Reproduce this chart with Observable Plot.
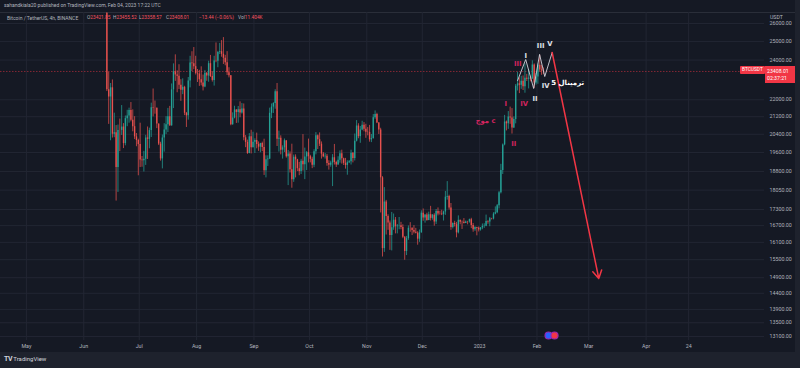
<!DOCTYPE html>
<html><head><meta charset="utf-8">
<script src="https://cdn.jsdelivr.net/npm/d3@7"></script>
<script src="https://cdn.jsdelivr.net/npm/@observablehq/plot@0.6"></script>
<style>
body{margin:0;background:#1e222d;}
#wrap{position:relative;width:800px;height:368px;overflow:hidden;font-family:Roboto,"Liberation Sans",sans-serif;background:#1e222d;}
#pane{position:absolute;left:0;top:0;width:795px;height:352px;background:#151924;}
#sep{position:absolute;left:0;top:12px;width:795px;height:1px;background:#2a2e39;}
#chart{position:absolute;left:0;top:0;}
.t{position:absolute;white-space:nowrap;font-size:5.2px;color:#b2b5be;line-height:1;}
.r{color:#f7525f;}
</style></head><body>
<div id="wrap"><div id="pane"></div><div id="sep"></div><div id="chart"></div></div>
<script>
// ---- data ----
const firstOpen = 26574;
const startDay = "2022-06-13";
const closes = [
22487,22136,22584,20401,20468,18970,20574,20573,20724,19987,21110,21237,21492,21038,20742,20281,20123,19942,
19280,19252,19315,20236,20175,20564,21624,21595,21591,20862,19963,19328,20234,20588,20830,21195,20779,22485,23389,23231,23164,22714,22465,22610,21361,21239,22930,23843,23804,23656,23306,
23278,22987,22818,22622,23312,23175,23810,23150,22954,23954,23934,24403,24441,24305,24094,23854,23342,23191,20834,21140,21515,21399,21529,21368,21559,20241,20037,19555,20285,19811,20050,
20127,19952,19832,19986,19812,18837,19290,19320,21360,21650,21826,22395,20173,20226,19701,19803,20113,19416,19537,18875,18461,19401,19289,18920,18807,19227,19079,19412,19591,19422,
19310,19056,19629,20337,20158,19960,19532,19417,19439,19131,19061,19155,19376,19176,19068,19268,19550,19334,19140,19053,19170,19208,19567,19345,20095,20771,20295,20591,20809,20627,20491,
20483,20151,20207,21148,21300,20905,20592,18542,15880,17587,17035,16800,16340,16620,16900,16660,16690,16695,16630,16284,15781,16230,16603,16600,16521,16459,16427,16212,16443,17163,
16977,17092,16885,17105,16967,17088,16837,17224,17129,17128,17105,17206,17774,17803,17356,16630,16777,16738,16438,16895,16825,16821,16778,16836,16832,16919,16706,16547,16633,16607,16542,
16616,16672,16675,16851,16832,16950,16943,17127,17178,17440,17943,18847,19930,20954,20871,21185,21134,20677,21071,22667,22784,22707,22917,22633,23060,23009,23074,23027,23743,22826,23125,
23732,23488,23431,23408];
const highs = [
26883,23362,22800,22976,21365,20792,20815,21090,21723,20880,21233,21500,21600,21868,21520,21200,20432,20180,
20900,19430,19650,20354,20728,20675,21838,22527,21940,21608,20868,20046,20366,20880,21200,21588,21684,22777,23800,24276,23441,23756,22990,23033,22660,21400,23100,24200,24442,24668,24200,
23509,23466,23647,23225,23460,23354,23938,24245,23400,24200,24918,24460,24890,25047,25211,24250,24446,23600,23200,21380,21690,21520,21680,21900,21820,21800,20340,20140,20430,20580,20490,
20200,20450,20060,20000,20050,20180,19460,19460,21600,21800,21860,22490,22800,20540,20330,19890,20190,20100,19690,19630,19960,19490,19500,19310,19180,19310,20385,19790,19645,20185,
19480,19400,19720,20475,20370,20460,20060,19600,19560,19520,19250,19230,19510,19950,19230,19420,19670,19700,19360,19350,19250,19260,19700,19600,20410,21020,20875,20750,20990,20930,20850,
20700,20800,20390,21300,21470,21360,20930,20670,18590,18150,17650,17100,16870,17190,17130,17000,16740,17000,16820,16730,16300,16310,16690,16810,16620,16700,16600,16480,16540,17250,
17320,17100,17160,17200,17420,17110,17140,17300,17360,17230,17270,17240,18000,18390,17850,17530,16800,16860,16820,17060,16900,16870,16960,16870,16860,16940,16970,16780,16660,16640,16650,
16630,16760,16770,17090,16880,17000,16970,17180,17400,17490,18000,19100,19970,21260,21000,21440,21650,21580,21190,22750,23370,23080,23160,23180,23800,23260,23500,23170,23960,23800,23310,
23800,24255,23720,23590];
const lows = [
22400,20846,20111,20232,20246,17622,17960,19637,20348,19770,19890,20740,20900,20961,20510,20164,19850,18626,
18966,18978,18781,19055,19304,19761,20256,21189,21316,20652,19901,19235,18910,19616,20383,20476,20750,20762,21581,22906,22341,22500,21927,22250,21250,20706,21040,22580,23400,23502,23227,
22850,22654,22681,22430,22588,22910,22860,23100,22870,22670,23860,23600,24290,24150,23770,23700,23200,23080,20783,20800,21100,20890,20900,21150,21320,20110,19810,19520,19550,19540,19800,
19560,19760,19650,19590,19640,18640,18540,19010,19300,21110,21350,21550,19860,19620,19500,19320,19600,19360,18230,18740,18125,18360,18540,18800,18630,18680,18820,18470,18840,19160,
19160,18920,18960,19500,19730,19860,19320,19380,19320,19020,18860,18980,18190,19070,18970,19060,19150,19110,19050,18900,18650,19130,19070,19160,19240,20060,20200,20000,20560,20510,20220,
20330,20050,20030,20180,21080,20880,20390,17170,15590,15750,16360,16530,15820,15800,16530,16400,16400,16550,16550,16230,15480,15640,16170,16460,16340,16400,16400,16000,16100,16420,
16860,16790,16860,16880,16870,16900,16680,16740,17060,17090,17070,16870,17080,17660,17280,16530,16580,16650,16260,16400,16730,16560,16760,16790,16730,16790,16590,16460,16490,16330,16470,
16500,16550,16600,16660,16750,16660,16910,16910,17100,17140,17320,17900,18680,19890,20550,20620,20850,20410,20660,20870,22430,22300,22510,22450,22320,22900,22530,22880,23000,22550,22720,
22760,23360,23210,23250];

const yTicks = [13100,13500,13900,14400,14900,15500,16100,16700,17300,18050,18800,19600,20400,21200,22000,24000,25000,26000];
const xTickDates = ["2022-05-01","2022-06-01","2022-07-01","2022-08-01","2022-09-01","2022-10-01","2022-11-01","2022-12-01","2023-01-01","2023-02-01","2023-03-01","2023-04-01","2023-04-24"];
const xTickLabels = ["May","Jun","Jul","Aug","Sep","Oct","Nov","Dec","2023","Feb","Mar","Apr","24"];

const whiteLabels = ["I","II","III","IV","V"];
const whiteLabelDates = ["2023-01-25T22:00Z","2023-01-31T00:00Z","2023-02-03T00:00Z","2023-02-05T17:00Z","2023-02-07T22:00Z"];
const whiteLabelPrices = [24240,22062,24777,22700,24886];
const pinkLabels = ["موج c","I","II","III","IV"];
const pinkLabelDates = ["2023-01-04T05:00Z","2023-01-15T02:00Z","2023-01-19T10:00Z","2023-01-21T14:00Z","2023-01-25T02:00Z"];
const pinkLabelPrices = [21024,21822,19992,23820,21822];
const noteText = "5 ترمینال";
const noteDate = "2023-02-17T14:00Z";
const notePrice = 22849;

const waveDates = ["2023-01-21T13:00Z","2023-01-25T22:00Z","2023-01-30T05:00Z","2023-02-02T10:00Z","2023-02-05T05:00Z","2023-02-09T05:00Z"];
const wavePrices = [22948,24029,22551,24300,23150,24400];
const arrowFrom = {date:"2023-02-09T05:00Z", price:24400};
const arrowTo = {date:"2023-03-06T10:00Z", price:14874};

const eventDate = "2023-02-07T06:00Z";

const lastPrice = 23408.01;
const countdown = "02:37:21";
const symbolName = "Bitcoin / TetherUS, 4h, BINANCE";
const legendNames = ["O","H","L","C"];
const legendValues = ["23421.85","23455.52","23358.57","23408.01"];
const changeText = "−13.44 (−0.06%)";
const volText = "11.404K";
const publishLine = "sahandkiala20 published on TradingView.com, Feb 04, 2023 17:22 UTC";

// ---- build ----
const t0 = Date.parse(startDay + "T12:00:00Z");
const candles = closes.map((c, i) => ({
  date: new Date(t0 + i * 864e5),
  open: i === 0 ? firstOpen : closes[i - 1],
  high: highs[i], low: lows[i], close: c
}));
const ups = candles.filter(d => d.close >= d.open);
const downs = candles.filter(d => d.close < d.open);
const UP = "#26a69a", DOWN = "#ef5350";
const xTicks = xTickDates.map(s => new Date(s + "T00:00:00Z"));
const labelMap = new Map(xTicks.map((d, i) => [+d, xTickLabels[i]]));
const wl = whiteLabels.map((t, i) => ({t, date: new Date(whiteLabelDates[i]), p: whiteLabelPrices[i]}));
const pl = pinkLabels.map((t, i) => ({t, date: new Date(pinkLabelDates[i]), p: pinkLabelPrices[i]}));
const wave = waveDates.map((d, i) => ({date: new Date(d), p: wavePrices[i]}));

const chart = Plot.plot({
  width: 800, height: 368,
  marginTop: 12, marginBottom: 28, marginLeft: 0, marginRight: 36,
  style: {background: "transparent", color: "#b2b5be", fontFamily: "Roboto, 'Liberation Sans', sans-serif", fontSize: "5.3px"},
  x: {type: "utc", domain: [new Date("2022-04-17T00:00:00Z"), new Date("2023-06-04T00:00:00Z")]},
  y: {type: "log", domain: [12985, 26635]},
  marks: [
    Plot.gridY(yTicks, {stroke: "#222633", strokeOpacity: 1}),
    Plot.gridX(xTicks, {stroke: "#222633", strokeOpacity: 1}),
    Plot.ruleY([lastPrice], {stroke: "#f23645", strokeOpacity: 0.5, strokeDasharray: "1.5,1.5"}),
    Plot.ruleX(ups, {x: "date", y1: "low", y2: "high", stroke: UP, strokeWidth: 0.8, strokeOpacity: 0.9, clip: true}),
    Plot.ruleX(downs, {x: "date", y1: "low", y2: "high", stroke: DOWN, strokeWidth: 0.8, strokeOpacity: 0.9, clip: true}),
    Plot.ruleX(ups, {x: "date", y1: "open", y2: "close", stroke: UP, strokeWidth: 1.4, strokeOpacity: 0.9, clip: true}),
    Plot.ruleX(downs, {x: "date", y1: "open", y2: "close", stroke: DOWN, strokeWidth: 1.4, strokeOpacity: 0.9, clip: true}),
    Plot.line(wave, {x: "date", y: "p", stroke: "#d1d4dc", strokeWidth: 0.9}),
    Plot.arrow([0], {x1: () => new Date(arrowFrom.date), y1: () => arrowFrom.price, x2: () => new Date(arrowTo.date), y2: () => arrowTo.price, stroke: "#f23645", strokeWidth: 1.5, headLength: 9}),
    Plot.text(wl, {x: "date", y: "p", text: "t", fill: "#e0e3eb", fontSize: 6.8, fontWeight: "bold", fontFamily: "DejaVu Sans"}),
    Plot.text(pl, {x: "date", y: "p", text: "t", fill: "#d4245f", fontSize: 6.8, fontWeight: "bold", fontFamily: "DejaVu Sans"}),
    Plot.text([noteText], {x: () => new Date(noteDate), y: () => notePrice, text: d => d, fill: "#ffffff", fontSize: 7, fontWeight: "bold", fontFamily: "DejaVu Sans"}),
    Plot.dot([0], {x: () => new Date(eventDate), frameAnchor: "bottom", dy: -5, r: 3.5, fill: "#2962ff", stroke: "#9c27b0", strokeWidth: 1.2}),
    Plot.dot([0], {x: () => new Date(eventDate), frameAnchor: "bottom", dy: -5, dx: 6, r: 3.5, fill: "#f23645", stroke: "#9c27b0", strokeWidth: 1.2}),
    Plot.axisY(yTicks, {anchor: "right", tickSize: 0, tickPadding: 5, tickFormat: d => d.toFixed(2), fill: "#b2b5be"}),
    Plot.axisX(xTicks, {anchor: "bottom", tickSize: 0, tickPadding: 4, tickFormat: d => labelMap.get(+d), fill: "#b2b5be"})
  ]
});
document.getElementById("chart").appendChild(chart);

// ---- overlays (text) ----
const wrap = document.getElementById("wrap");
function add(html, left, top, extra) {
  const el = document.createElement("div");
  el.className = "t";
  el.style.left = left + "px"; el.style.top = top + "px";
  if (extra) Object.assign(el.style, extra);
  el.innerHTML = html;
  wrap.appendChild(el);
  return el;
}
add(publishLine, 4, 3, {fontSize: "5px"});
add(symbolName, 7, 16, {fontSize: "5px"});
const legX = [87, 113, 139, 166];
legendNames.forEach((n, i) => add(n + '<span class="r">' + legendValues[i] + '</span>', legX[i], 16, {fontSize: "4.8px"}));
add('<span class="r">' + changeText + '</span>', 199, 16, {fontSize: "4.8px"});
add('Vol<span class="r">' + volText + '</span>', 238, 16, {fontSize: "4.8px"});
add("USDT", 770, 15);

const py = chart.scale("y").apply(lastPrice);
add("BTCUSDT", 740, py - 4.5, {background: "#f23645", color: "#fff", padding: "1.5px 2px", fontSize: "4.8px", borderRadius: "1px"});
add(lastPrice.toFixed(2) + "<br>" + countdown, 765, py - 4.5, {background: "#f23645", color: "#fff", padding: "1.5px 2px", lineHeight: "1.3", fontSize: "5.2px", width: "26px"});
add('<b style="font-size:7px;letter-spacing:-0.5px">TV</b> TradingView', 4, 356, {color: "#d1d4dc", fontSize: "6px"});
</script>
</body></html>
